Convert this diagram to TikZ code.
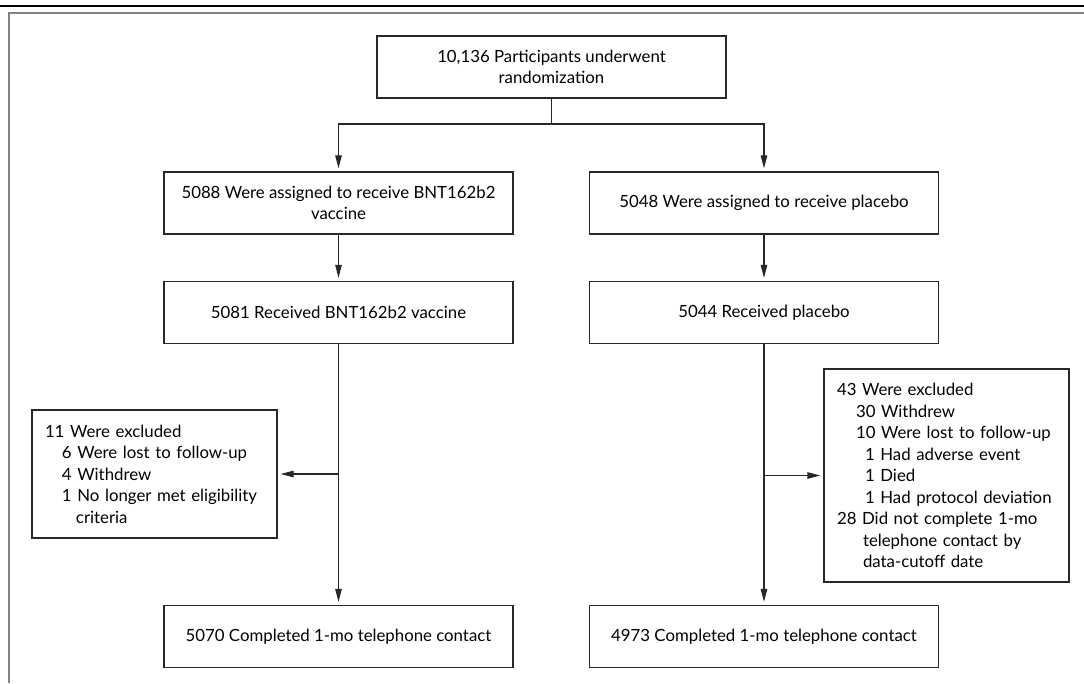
\documentclass[tikz,border=0pt]{standalone}
\usepackage{fontspec}
\setmainfont{Lato}
\definecolor{boxline}{RGB}{40, 40, 40}
\definecolor{framegray}{RGB}{130, 130, 130}
\usepackage{tikz}
\usetikzlibrary{arrows.meta, positioning, calc}

\begin{document}
\begin{tikzpicture}[x=1pt, y=-1pt,
    every node/.style={font=\fontsize{16.8}{21.5}\selectfont},
    box/.style={draw=boxline, line width=1.3pt, minimum width=349pt, minimum height=62pt, align=center, inner sep=0pt},
    exclbox/.style={draw=boxline, line width=1.3pt, text width=219pt, inner xsep=13pt, align=left},
    arr/.style={-{Triangle[length=13pt, width=6.5pt]}, line width=1.2pt, draw=boxline, shorten >=3pt}]
  \useasboundingbox (0,0) rectangle (1084,683);

  % Frame
  \draw[line width=1.2pt, black] (0,6) -- (1084,6);
  \draw[line width=2pt, framegray] (9,683) -- (9,13) -- (1084,13);

  % Randomization
  \node[box] (rand) at (551.5,67) {10,136 Participants underwent\\randomization};
  \coordinate (split) at (551.5,124);

  % Vaccine arm
  \node[box] (assignV) at (338.5,203) {5088 Were assigned to receive BNT162b2\\vaccine};
  \node[box] (recV) at (338.5,312.5) {5081 Received BNT162b2 vaccine};
  \node[exclbox, minimum height=128pt] (exclV) at (154.5,474) {%
    11 Were excluded\\
    \hspace*{17pt}6 Were lost to follow-up\\
    \hspace*{17pt}4 Withdrew\\
    \hspace*{17pt}1 No longer met eligibility\\
    \hspace*{31pt}criteria};
  \node[box] (doneV) at (338.5,636.5) {5070 Completed 1-mo telephone contact};

  % Placebo arm
  \node[box] (assignP) at (764,203) {5048 Were assigned to receive placebo};
  \node[box] (recP) at (764,312.5) {5044 Received placebo};
  \node[exclbox, minimum height=213pt] (exclP) at (946.5,475.5) {%
    43 Were excluded\\
    \hspace*{19pt}30 Withdrew\\
    \hspace*{19pt}10 Were lost to follow-up\\
    \hspace*{28pt}1 Had adverse event\\
    \hspace*{28pt}1 Died\\
    \hspace*{28pt}1 Had protocol deviation\\
    28 Did not complete 1-mo\\
    \hspace*{26pt}telephone contact by\\
    \hspace*{26pt}data-cutoff date};
  \node[box] (doneP) at (764,636.5) {4973 Completed 1-mo telephone contact};

  % Connectors
  \draw[line width=1.2pt, boxline] (rand.south) -- (split);
  \draw[arr] (split) -| (assignV.north);
  \draw[arr] (split) -| (assignP.north);
  \draw[arr] (assignV) -- (recV);
  \draw[arr] (assignP) -- (recP);
  \draw[arr] (recV) -- (doneV);
  \draw[arr] (recP) -- (doneP);
  \draw[arr] (recV.south |- exclV.east) -- (exclV.east);
  \draw[arr] (recP.south |- exclP.west) -- (exclP.west);
\end{tikzpicture}
\end{document}
